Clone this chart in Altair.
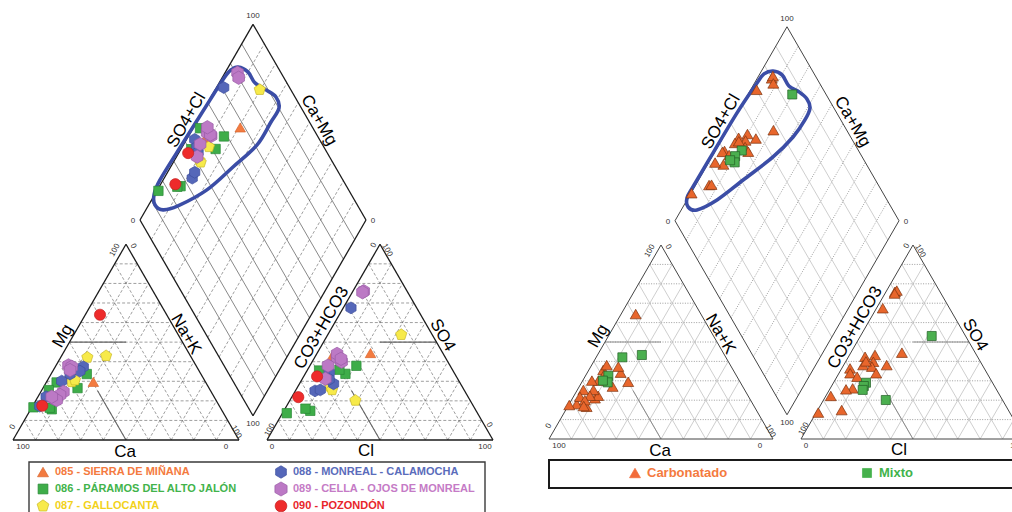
import math
import altair as alt
import pandas as pd

# ---------------------------------------------------------------
# Piper data (% of meq/L). Ca = 100 - Mg - Na+K, HCO3 = 100 - SO4 - Cl
# ---------------------------------------------------------------
# Left figure: samples grouped by groundwater body
L_BODY = ["085"] * 2 + ["086"] * 7 + ["087"] * 4 + ["088"] * 6 + ["089"] * 8 + ["090"] * 2
L_MG = [29.7, 32.0,
        33.7, 26.5, 29.4, 25.5, 16.7, 15.7, 16.5,
        43.0, 42.2, 29.7, 30.6,
        17.3, 22.1, 30.1, 37.4, 35.2, 33.7,
        38.1, 37.4, 35.7, 24.6, 23.0, 21.3, 20.4, 22.1,
        17.5, 64.0]
L_NAK = [20.7, 8.0,
         15.8, 15.3, 4.6, 3.1, 0.7, 9.3, 8.0,
         19.7, 11.8, 11.1, 12.1,
         3.2, 3.6, 6.5, 12.4, 12.0, 8.4,
         5.5, 7.3, 7.4, 10.0, 9.3, 7.2, 9.1, 6.1,
         4.2, 6.5]
L_SO4 = [44.4, 42.7,
         37.9, 33.8, 35.5, 35.9, 13.7, 14.9, 16.0,
         53.8, 20.2, 27.3, 25.6,
         67.5, 34.5, 28.7, 25.1, 25.6, 31.0,
         76.0, 75.5, 42.0, 40.0, 44.0, 38.0, 31.3, 41.5,
         32.5, 21.9]
L_CL = [23.6, 7.4,
        20.6, 17.8, 5.3, 14.1, 1.9, 11.7, 9.0,
        32.5, 29.0, 14.3, 16.0,
        3.4, 10.3, 15.1, 8.7, 10.8, 12.0,
        4.8, 4.5, 10.0, 13.0, 9.0, 8.0, 10.2, 12.0,
        5.9, 2.9]

BODY_CODES = ["085", "086", "087", "088", "089", "090"]
BODY_NAMES = ["085 - SIERRA DE MIÑANA", "086 - PÁRAMOS DEL ALTO JALÓN",
              "087 - GALLOCANTA", "088 - MONREAL - CALAMOCHA",
              "089 - CELLA - OJOS DE MONREAL", "090 - POZONDÓN"]

# Right figure: samples grouped by facies
R_TYPE = ["Carbonatado"] * 21 + ["Mixto"] * 5
R_MG = [64.4, 35.6, 16.6, 25.3, 29.5, 34.2, 21.0, 30.1, 22.3, 38.1, 37.3,
        30.1, 18.0, 25.3, 27.0, 22.3, 21.8, 20.0, 17.0, 17.5, 33.0,
        43.3, 42.1, 32.6, 29.2, 30.1]
R_NAK = [6.5, 6.4, 8.5, 2.7, 20.6, 14.9, 10.0, 7.0, 10.8, 6.7, 12.3,
         4.1, 3.4, 7.2, 14.9, 7.1, 2.9, 6.0, 7.0, 0.3, 8.0,
         19.8, 11.7, 10.2, 11.6, 9.0]
R_SO4 = [75.9, 76.5, 75.0, 67.4, 44.5, 38.1, 43.3, 42.4, 39.8, 38.1, 37.3,
         36.4, 33.9, 32.1, 33.9, 26.1, 25.6, 22.2, 14.9, 13.6, 40.0,
         53.1, 20.1, 29.0, 27.3, 25.3]
R_CL = [4.0, 4.5, 4.3, 2.8, 22.8, 19.2, 11.4, 7.4, 12.4, 8.7, 13.0,
        3.7, 5.0, 9.0, 16.6, 10.0, 7.3, 2.2, 10.7, 0.9, 9.0,
        31.8, 27.8, 14.5, 14.4, 14.9]

FACIES = ["Carbonatado", "Mixto"]

# Hand-drawn envelope in the diamond: (SO4+Cl %, Ca+Mg %)
LOOP_L_A = [82.5, 85.6, 85.9, 89.0, 91.6, 90.1, 83.0, 71.0, 54.7, 37.3,
            20.4, 12.8, 10.5, 12.6, 19.1, 38.7, 61.7, 73.5, 78.6]
LOOP_L_C = [95.7, 90.1, 84.2, 77.5, 71.3, 67.1, 67.1, 67.4, 72.4, 78.1,
            86.8, 92.4, 97.2, 100.2, 101.4, 100.7, 99.7, 99.1, 98.1]
LOOP_R_A = [82.4, 85.4, 85.6, 88.6, 90.3, 89.3, 84.0, 74.3, 60.2, 40.9,
            24.1, 12.6, 9.4, 11.25, 16.7, 34.4, 55.5, 72.1, 77.6]
LOOP_R_C = [94.8, 89.8, 83.9, 77.8, 72.5, 68.8, 68.0, 68.9, 72.7, 80.1,
            86.6, 93.0, 97.7, 100.5, 100.7, 100.5, 100.1, 98.9, 98.1]

# ---------------------------------------------------------------
# Geometry of the two Piper frames (pixel space)
# ---------------------------------------------------------------
K = math.sqrt(3) / 2
GAP = 28
FONT = "Liberation Sans"


def frame(origin, side):
    x0, y0 = origin
    return {
        "side": side,
        "h": side * K,
        "cat": (x0, y0),
        "an": (x0 + side + GAP, y0),
        "b": (x0 + side + GAP / 2, y0 - GAP * K),
    }


def tern(f, key, top, right):
    x0, y0 = f[key]
    return (x0 + f["side"] * (right + top / 2) / 100, y0 - f["h"] * top / 100)


def diam(f, a, c):
    bx, by = f["b"]
    return (bx + f["side"] / 2 * (a - c) / 100, by - f["h"] * (a + c) / 100)


def seg(p, q):
    return {"x": p[0], "y": p[1], "x2": q[0], "y2": q[1]}


def mid(p, q, dx=0.0, dy=0.0):
    return ((p[0] + q[0]) / 2 + dx, (p[1] + q[1]) / 2 + dy)


FL = frame((13, 440), 226)
FR = frame((549, 439), 224)

XS = alt.Scale(domain=[0, 1012], range=[0, 1012], nice=False, zero=False)
YS = alt.Scale(domain=[0, 512], range=[0, 512], nice=False, zero=False)
X = alt.X("x:Q", scale=XS, axis=None)
Y = alt.Y("y:Q", scale=YS, axis=None)


def rules(rows, color, width, dash=None):
    kw = dict(color=color, strokeWidth=width)
    if dash:
        kw["strokeDash"] = dash
    return alt.Chart(pd.DataFrame(rows)).mark_rule(**kw).encode(
        x=X, y=Y, x2="x2:Q", y2="y2:Q")


def frame_lines(f):
    out = {"outline": [], "tri_h": [], "tri_d": [], "dia_a": [], "dia_c": [], "cls": []}
    for key in ("cat", "an"):
        bl, br, ap = tern(f, key, 0, 0), tern(f, key, 0, 100), tern(f, key, 100, 0)
        out["outline"] += [seg(bl, br), seg(br, ap), seg(ap, bl)]
        for v in range(10, 100, 10):
            out["tri_h"].append(seg(tern(f, key, v, 0), tern(f, key, v, 100 - v)))
            out["tri_d"].append(seg(tern(f, key, 0, v), tern(f, key, 100 - v, v)))
            out["tri_d"].append(seg(tern(f, key, 0, 100 - v), tern(f, key, 100 - v, 0)))
    # facies division lines
    out["cls"] += [seg(tern(f, "cat", 50, 0), tern(f, "cat", 50, 25)),
                   seg(tern(f, "cat", 0, 50), tern(f, "cat", 25, 25)),
                   seg(tern(f, "an", 50, 25), tern(f, "an", 50, 50)),
                   seg(tern(f, "an", 0, 50), tern(f, "an", 25, 25))]
    corners = [diam(f, 0, 0), diam(f, 100, 0), diam(f, 100, 100), diam(f, 0, 100)]
    for i in range(4):
        out["outline"].append(seg(corners[i], corners[(i + 1) % 4]))
    for v in range(10, 100, 10):
        out["dia_a"].append(seg(diam(f, v, 0), diam(f, v, 100)))
        out["dia_c"].append(seg(diam(f, 0, v), diam(f, 100, v)))
    return out


def frame_texts(f):
    ticks, titles = [], []
    cbl, cbr, cap = tern(f, "cat", 0, 0), tern(f, "cat", 0, 100), tern(f, "cat", 100, 0)
    abl, abr, aap = tern(f, "an", 0, 0), tern(f, "an", 0, 100), tern(f, "an", 100, 0)
    dl, dt, dr, db = diam(f, 0, 100), diam(f, 100, 100), diam(f, 100, 0), diam(f, 0, 0)

    def t(lst, txt, p, dx, dy, ang):
        lst.append({"x": p[0] + dx, "y": p[1] + dy, "t": txt, "ang": ang})

    t(ticks, "100", cbl, 10, 7, 0)
    t(ticks, "0", cbr, -13, 7, 0)
    t(ticks, "0", cbl, 0, -13, 300)
    t(ticks, "100", cap, -11, 6, 300)
    t(ticks, "0", cap, 7, 2, 60)
    t(ticks, "100", cbr, -3, -8, 60)
    t(ticks, "0", abl, 5, 7, 0)
    t(ticks, "100", abr, -8, 7, 0)
    t(ticks, "100", abl, 3, -10, 300)
    t(ticks, "0", aap, -6, 1, 300)
    t(ticks, "100", aap, 7, 6, 60)
    t(ticks, "0", abr, -4, -15, 60)
    t(ticks, "100", dt, 0, -8, 0)
    t(ticks, "0", dl, -7, 1, 0)
    t(ticks, "0", dr, 7, 1, 0)
    t(ticks, "100", db, 0, 8, 0)

    t(titles, "Ca", mid(cbl, cbr), -1, 12, 0)
    t(titles, "Mg", mid(cbl, cap), -6.6, -6, 300)
    t(titles, "Na+K", mid(cbr, cap), 3.4, -8, 60)
    t(titles, "Cl", mid(abl, abr), -14, 11, 0)
    t(titles, "CO3+HCO3", mid(abl, aap), -2, -14.3, 300)
    t(titles, "SO4", mid(abr, aap), 6, -7, 60)
    t(titles, "SO4+Cl", mid(dl, dt), -10, -2, 300)
    t(titles, "Ca+Mg", mid(dt, dr), 9.5, -2, 60)
    return ticks, titles


def texts(rows, size, color="#000000"):
    return alt.Chart(pd.DataFrame(rows)).mark_text(
        font=FONT, fontSize=size, align="center", baseline="middle", color=color
    ).encode(x=X, y=Y, text="t:N", angle=alt.Angle("ang:Q", scale=None))


def sample_positions(f, mg, nak, so4, cl):
    pts = []
    for m, n, s, c in zip(mg, nak, so4, cl):
        pts.append(tern(f, "cat", m, n))
        pts.append(tern(f, "an", s, c))
        pts.append(diam(f, s + c, 100 - n))
    return pts


PENT = "M0,-1L0.951,-0.309L0.588,0.809L-0.588,0.809L-0.951,-0.309Z"
HEX = "M0,-1L0.866,-0.5L0.866,0.5L0,1L-0.866,0.5L-0.866,-0.5Z"

BODY_SHAPE = ["triangle-up", "square", PENT, HEX, HEX, "circle"]
BODY_FILL = ["#F37B40", "#3EAD49", "#F7EA4A", "#5567B9", "#BC79C5", "#EE2B2B"]
BODY_EDGE = ["#D9652E", "#2A8A37", "#C9B826", "#3E4F9E", "#9A5BA6", "#C41F1F"]
BODY_SIZE = [110, 88, 140, 140, 180, 125]
BODY_TEXT = ["#F47A3E", "#42B34B", "#F2D21B", "#5A6CBB", "#C57BC6", "#E8262A"]

FAC_SHAPE = ["triangle-up", "square"]
FAC_FILL = ["#E8662C", "#4BAF4F"]
FAC_EDGE = ["#7D3410", "#225F25"]
FAC_SIZE = [120, 82]
FAC_TEXT = ["#F26B3A", "#45B14C"]


def symbols(pts, shape, fill, edge, size):
    df = pd.DataFrame([{"x": p[0], "y": p[1]} for p in pts])
    return alt.Chart(df).mark_point(
        shape=shape, filled=True, fill=fill, stroke=edge, strokeWidth=0.7,
        size=size, opacity=1
    ).encode(x=X, y=Y)


layers = []

# ---- grids and outlines ----
gl = frame_lines(FL)
gr = frame_lines(FR)
layers += [
    rules(gl["tri_h"] + gl["tri_d"], "#6a6a6a", 0.65, [3, 2]),
    rules(gl["dia_c"], "#6a6a6a", 0.65, [3, 2]),
    rules(gl["dia_a"], "#606060", 0.75),
    rules(gl["cls"], "#666666", 1.1),
    rules(gl["outline"], "#1a1a1a", 1.3),
    rules(gr["tri_h"] + gr["dia_c"], "#858585", 0.8, [1, 1.5]),
    rules(gr["tri_d"] + gr["dia_a"], "#bdbdbd", 0.75),
    rules(gr["cls"], "#8c8c8c", 1.0),
    rules(gr["outline"], "#444444", 1.0),
]

# ---- tick labels and axis titles ----
for f in (FL, FR):
    ticks, titles = frame_texts(f)
    layers.append(texts(ticks, 8, "#333333"))
    layers.append(texts(titles, 17))

# ---- envelope curves ----
loop_rows = []
for name, f, la, lc in (("L", FL, LOOP_L_A, LOOP_L_C), ("R", FR, LOOP_R_A, LOOP_R_C)):
    for i, (a, c) in enumerate(zip(la, lc)):
        p = diam(f, a, c)
        loop_rows.append({"x": p[0], "y": p[1], "i": i, "loop": name})
layers.append(
    alt.Chart(pd.DataFrame(loop_rows)).mark_line(
        interpolate="cardinal-closed", strokeWidth=3.6, color="#3B4DA6"
    ).encode(x=X, y=Y, order="i:Q", detail="loop:N")
)

# ---- samples ----
for k, code in enumerate(BODY_CODES):
    idx = [j for j, b in enumerate(L_BODY) if b == code]
    pts = sample_positions(FL, [L_MG[j] for j in idx], [L_NAK[j] for j in idx],
                           [L_SO4[j] for j in idx], [L_CL[j] for j in idx])
    layers.append(symbols(pts, BODY_SHAPE[k], BODY_FILL[k], BODY_EDGE[k], BODY_SIZE[k]))

for k, fac in enumerate(FACIES):
    idx = [j for j, t in enumerate(R_TYPE) if t == fac]
    pts = sample_positions(FR, [R_MG[j] for j in idx], [R_NAK[j] for j in idx],
                           [R_SO4[j] for j in idx], [R_CL[j] for j in idx])
    layers.append(symbols(pts, FAC_SHAPE[k], FAC_FILL[k], FAC_EDGE[k], FAC_SIZE[k]))

# ---- legends ----
box_rows = [{"x": 29, "x2": 485, "y": 462, "y2": 530},
            {"x": 549, "x2": 1030, "y": 460, "y2": 488}]
layers.append(
    alt.Chart(pd.DataFrame(box_rows[:1])).mark_rect(
        filled=False, stroke="#3a3a3a", strokeWidth=1.4
    ).encode(x=X, y=Y, x2="x2:Q", y2="y2:Q")
)
layers.append(
    alt.Chart(pd.DataFrame(box_rows[1:])).mark_rect(
        filled=False, stroke="#1a1a1a", strokeWidth=2
    ).encode(x=X, y=Y, x2="x2:Q", y2="y2:Q")
)

leg_rows = []
for k, (code, name) in enumerate(zip(BODY_CODES, BODY_NAMES)):
    col, row = divmod(k, 3)
    sx = 43 if col == 0 else 281
    sy = 472 + 17 * row
    layers.append(symbols([(sx, sy)], BODY_SHAPE[k], BODY_FILL[k], BODY_EDGE[k],
                          BODY_SIZE[k] * 1.1))
    leg_rows.append({"x": sx + 12, "y": sy, "t": name, "key": code})
layers.append(
    alt.Chart(pd.DataFrame(leg_rows)).mark_text(
        font=FONT, fontSize=11, fontWeight="bold", align="left", baseline="middle"
    ).encode(x=X, y=Y, text="t:N",
             color=alt.Color("key:N", scale=alt.Scale(domain=BODY_CODES, range=BODY_TEXT),
                             legend=None))
)

fac_rows = []
for k, fac in enumerate(FACIES):
    sx = 635 if k == 0 else 867
    sy = 473
    layers.append(symbols([(sx, sy)], FAC_SHAPE[k], FAC_TEXT[k], FAC_TEXT[k],
                          FAC_SIZE[k] * 1.0))
    fac_rows.append({"x": sx + 12, "y": sy, "t": fac, "key": fac})
layers.append(
    alt.Chart(pd.DataFrame(fac_rows)).mark_text(
        font=FONT, fontSize=13, fontWeight="bold", align="left", baseline="middle"
    ).encode(x=X, y=Y, text="t:N",
             color=alt.Color("key:N", scale=alt.Scale(domain=FACIES, range=FAC_TEXT),
                             legend=None))
)

chart = alt.layer(*layers).properties(
    width=1012, height=512,
    autosize=alt.AutoSizeParams(type="none"),
    padding=0,
    background="white",
).configure_view(stroke=None)

chart.save("out.html", embed_options={"renderer": "svg", "actions": False})
